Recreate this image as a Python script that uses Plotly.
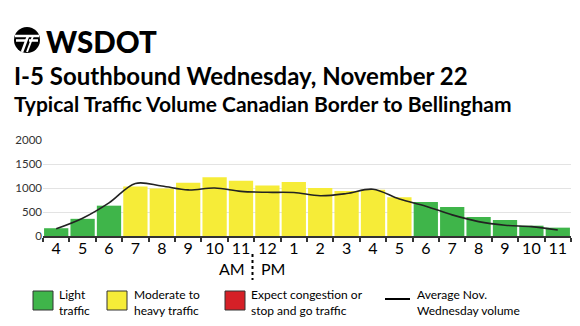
import plotly.graph_objects as go

hours = ["4", "5", "6", "7", "8", "9", "10", "11", "12", "1", "2", "3", "4", "5", "6", "7", "8", "9", "10", "11"]
volume = [162, 358, 632, 1031, 989, 1110, 1225, 1151, 1053, 1125, 1000, 940, 965, 805, 708, 604, 396, 333, 215, 174]
status = ["light", "light", "light", "moderate", "moderate", "moderate", "moderate", "moderate", "moderate",
          "moderate", "moderate", "moderate", "moderate", "moderate", "light", "light", "light", "light", "light", "light"]
average = [150, 370, 690, 1095, 1040, 960, 1000, 930, 910, 905, 840, 885, 975, 770, 620, 440, 300, 225, 195, 125]
y_ticks = [0, 500, 1000, 1500, 2000]

colors = {"light": "#3fb54a", "moderate": "#f6ec38", "heavy": "#d52027"}
FONT = "Lato"

# plot area in pixels
W, H = 580, 326
L, R, T, B = 43, 9, 140, 90
PW, PH = W - L - R, H - T - B


def px(x):
    return (x - L) / PW


def py(y):
    return (H - B - y) / PH


xs = list(range(len(hours)))
fig = go.Figure()
fig.add_trace(go.Bar(x=xs, y=volume, marker=dict(color=[colors[s] for s in status], line=dict(width=0)),
                     hoverinfo="y", showlegend=False))
fig.add_trace(go.Scatter(x=xs, y=average, mode="lines", line=dict(color="#222222", width=1.6, shape="spline", smoothing=1.0),
                         hoverinfo="y", showlegend=False))

shapes = []
annotations = []

# Logo
cx, cy, r = 27, 40, 13
shapes.append(dict(type="circle", xref="paper", yref="paper", x0=px(cx - r), x1=px(cx + r), y0=py(cy + r), y1=py(cy - r),
                   fillcolor="black", line=dict(width=0), layer="above"))
for (x0, y0, x1, y1, w) in [(cx - 12, cy - 4, cx + 12, cy - 4, 2.5), (cx - 11, cy + 0.5, cx - 1, cy + 0.5, 2.5),
                            (cx + 2, cy + 0.5, cx + 11, cy + 0.5, 2.5), (cx + 1, cy - 4, cx - 5, cy + 12, 2.5),
                            (cx + 6, cy - 4, cx, cy + 12, 2.0)]:
    shapes.append(dict(type="line", xref="paper", yref="paper", x0=px(x0), y0=py(y0), x1=px(x1), y1=py(y1),
                       line=dict(color="white", width=w), layer="above"))
annotations.append(dict(text="<b>WSDOT</b>", xref="paper", yref="paper", x=px(44), y=py(41), xanchor="left", yanchor="middle",
                        showarrow=False, font=dict(family="Lato Black, Lato", size=29.5, color="black")))

annotations.append(dict(text="<b>I-5 Southbound Wednesday, November 22</b>", xref="paper", yref="paper", x=px(12), y=py(75),
                        xanchor="left", yanchor="middle", showarrow=False, font=dict(family=FONT, size=24, color="black")))
annotations.append(dict(text="<b>Typical Traffic Volume Canadian Border to Bellingham</b>", xref="paper", yref="paper", x=px(12), y=py(103),
                        xanchor="left", yanchor="middle", showarrow=False, font=dict(family=FONT, size=21, color="black")))

# AM / PM
annotations.append(dict(text="AM", xref="paper", yref="paper", x=px(247), y=py(268), xanchor="right", yanchor="middle",
                        showarrow=False, font=dict(family=FONT, size=16, color="black")))
annotations.append(dict(text="PM", xref="paper", yref="paper", x=px(259), y=py(268), xanchor="left", yanchor="middle",
                        showarrow=False, font=dict(family=FONT, size=16, color="black")))
shapes.append(dict(type="line", xref="paper", yref="paper", x0=px(252.5), x1=px(252.5), y0=py(254), y1=py(280),
                   line=dict(color="black", width=2, dash="dot")))

# Legend
legend_items = [("light", 33, "Light<br>traffic", 57), ("moderate", 107, "Moderate to<br>heavy traffic", 132),
                ("heavy", 225, "Expect congestion or<br>stop and go traffic", 249)]
for key, x0, label, tx in legend_items:
    shapes.append(dict(type="rect", xref="paper", yref="paper", x0=px(x0), x1=px(x0 + 20), y0=py(310), y1=py(291),
                       fillcolor=colors[key], line=dict(color="#333333", width=1)))
    annotations.append(dict(text=label, xref="paper", yref="paper", x=px(tx), y=py(302), xanchor="left", yanchor="middle",
                            align="left", showarrow=False, font=dict(family=FONT, size=12, color="black")))
shapes.append(dict(type="line", xref="paper", yref="paper", x0=px(385), x1=px(410), y0=py(299), y1=py(299),
                   line=dict(color="black", width=2)))
annotations.append(dict(text="Average Nov.<br>Wednesday volume", xref="paper", yref="paper", x=px(415), y=py(302), xanchor="left",
                        yanchor="middle", align="left", showarrow=False, font=dict(family=FONT, size=12, color="black")))

fig.update_layout(
    width=W, height=H, margin=dict(l=L, r=R, t=T, b=B, pad=0),
    paper_bgcolor="white", plot_bgcolor="white",
    bargap=0.08, shapes=shapes, annotations=annotations,
    font=dict(family=FONT, color="black"),
    xaxis=dict(range=[-0.5, len(hours) - 0.5], tickmode="array", tickvals=xs, ticktext=hours, ticks="", ticklen=0,
               tickfont=dict(family=FONT, size=16, color="black"), showgrid=False, zeroline=False,
               showline=True, linecolor="#333333", linewidth=1.5, fixedrange=True, ticklabelstandoff=-3,
               minor=dict(tickmode="linear", tick0=-0.5, dtick=1, ticks="outside", ticklen=4, tickcolor="#333333", tickwidth=1.5)),
    yaxis=dict(range=[0, 2000], tickmode="array", tickvals=y_ticks, ticktext=[str(v) for v in y_ticks],
               tickfont=dict(family=FONT, size=11.5, color="#333333"), showgrid=True, gridcolor="#e3e3e3", gridwidth=1,
               zeroline=False, ticks="", fixedrange=True, showline=False),
)

fig.write_html("out.html")
